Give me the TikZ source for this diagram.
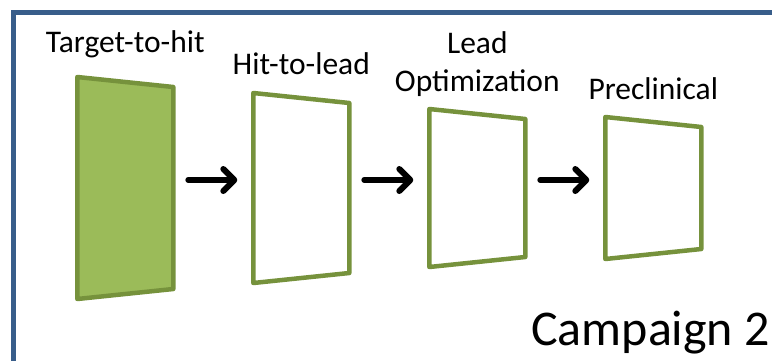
\documentclass[tikz,border=0pt]{standalone}
\usepackage{fontspec}
\setmainfont{Carlito}
\usetikzlibrary{positioning,arrows.meta}
\definecolor{frameblue}{RGB}{56,93,138}
\definecolor{stagegreen}{RGB}{155,187,89}
\definecolor{stageolive}{RGB}{118,146,60}

\begin{document}
\begin{tikzpicture}[x=1pt,y=-1pt,
  stage/.style={inner sep=0pt,outer sep=0pt,minimum width=96pt},
  panel/.style={draw=stageolive,line width=4.5pt,line join=round},
  lbl/.style={font=\fontsize{31.5}{38}\selectfont,align=center,anchor=base,inner sep=0pt},
  flow/.style={line width=6pt,line cap=round,-{Straight Barb[round,length=11pt,width=22pt]},shorten <=15pt,shorten >=16pt}]
\path[use as bounding box,clip] (0,0) rectangle (772,360);
% frame, cut off at the right and bottom
\draw[frameblue,line width=5pt] (13,12.5) rectangle (800,400);

% the four stages
\node[stage,minimum height=222pt] (s1) at (125.3,188) {};
\node[stage,minimum height=190pt,right=80pt of s1] (s2) {};
\node[stage,minimum height=158pt,right=80pt of s2] (s3) {};
\node[stage,minimum height=142pt,right=80pt of s3] (s4) {};

\draw[panel,fill=stagegreen] (s1.north west) -- ([yshift=-10pt]s1.north east) -- ([yshift=10pt]s1.south east) -- (s1.south west) -- cycle;
\foreach \s in {s2,s3,s4}{
\draw[panel] (\s.north west) -- ([yshift=-10pt]\s.north east) -- ([yshift=10pt]\s.south east) -- (\s.south west) -- cycle;
}

% labels
\node[lbl] (l1) at ([yshift=25pt]s1.north) {Target-to-hit};
\node[lbl] (l2) at ([yshift=19pt]s2.north) {Hit-to-lead};
\node[lbl] (l3) at ([yshift=18pt]s3.north) {Lead\\Optimization};
\node[lbl] (l4) at ([yshift=18pt]s4.north) {Preclinical};

% arrows
\draw[flow] ([yshift=8pt]s1.east) -- ([yshift=8pt]s2.west);
\draw[flow] ([yshift=8pt]s2.east) -- ([yshift=8pt]s3.west);
\draw[flow] ([yshift=8pt]s3.east) -- ([yshift=8pt]s4.west);

\node[font=\fontsize{50}{60}\selectfont,anchor=base west,inner sep=0pt] (camp) at (531,345) {Campaign 2};
\end{tikzpicture}
\end{document}
